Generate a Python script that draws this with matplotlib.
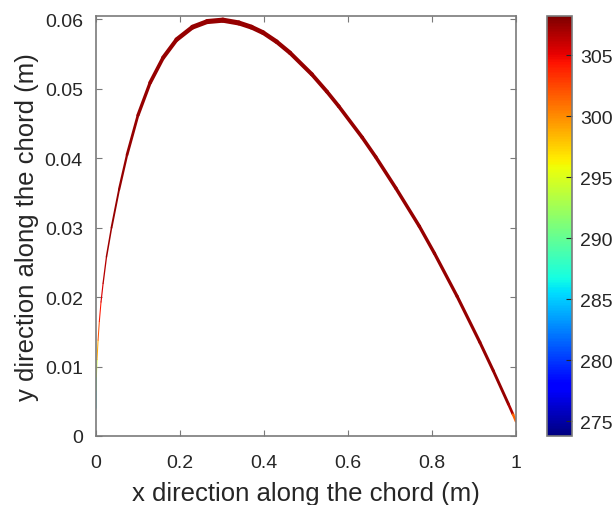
import numpy as np
import matplotlib
matplotlib.use('Agg')
import matplotlib.pyplot as plt
from matplotlib.collections import LineCollection

plt.rcParams['font.family'] = ['Liberation Sans', 'DejaVu Sans']

# surface points along the chord (m) and temperature (K)
x = [0.0, 0.0003, 0.001, 0.0025, 0.005, 0.008, 0.012, 0.017, 0.025, 0.037,
     0.055, 0.074, 0.10, 0.129, 0.16, 0.192, 0.23, 0.265, 0.302, 0.34,
     0.37, 0.398, 0.43, 0.462, 0.514, 0.55, 0.578, 0.634, 0.666, 0.714,
     0.77, 0.806, 0.86, 0.914, 0.946, 0.982, 0.993, 1.0]
y = [0.004, 0.0065, 0.0085, 0.011, 0.0138, 0.0165, 0.0193, 0.022, 0.0258, 0.030,
     0.0355, 0.0405, 0.0462, 0.0509, 0.0545, 0.0571, 0.0589, 0.0597, 0.0599, 0.0595,
     0.0589, 0.0581, 0.0568, 0.0552, 0.0521, 0.0496, 0.0475, 0.0430, 0.0402, 0.0357,
     0.0302, 0.0263, 0.0201, 0.0135, 0.0094, 0.0046, 0.0031, 0.0021]
T = [284, 288, 292, 297, 301, 303.5, 305, 306, 307, 307.5,
     307.5, 307.5, 307.5, 307.5, 307.5, 307.5, 307.5, 307.5, 307.5, 307.5,
     307.5, 307.5, 307.5, 307.5, 307.5, 307.5, 307.5, 307.5, 307.5, 307.5,
     307.5, 307.5, 307.5, 307.5, 307.5, 307.5, 306, 297]
T_min, T_max = 273.8, 308.2
cbar_ticks = [275, 280, 285, 290, 295, 300, 305]

# drawn band width (pixels) at each point
lw_px = [1.0, 1.0, 1.0, 1.0, 1.0, 1.0, 1.1, 1.2, 1.4, 1.7,
         2.1, 2.5, 3.0, 3.5, 3.9, 4.3, 4.7, 5.0, 5.2, 5.0,
         4.8, 4.6, 4.4, 4.2, 4.0, 3.8, 3.7, 3.6, 3.6, 3.5,
         3.4, 3.3, 3.2, 3.1, 3.0, 2.8, 2.6, 2.4]

txt = '#262626'
edge = '#7a7a7a'

fig = plt.figure(figsize=(6.16, 5.06), dpi=100)
ax = fig.add_axes([0.1558, 0.1364, 0.6818, 0.83])
cax = fig.add_axes([0.888, 0.1364, 0.0406, 0.83])

pts = np.column_stack([x, y])
segs = np.stack([pts[:-1], pts[1:]], axis=1)
Tseg = 0.5 * (np.array(T[:-1]) + np.array(T[1:]))
wseg = 0.5 * (np.array(lw_px[:-1]) + np.array(lw_px[1:])) * 0.72
norm = plt.Normalize(T_min, T_max)
lc = LineCollection(segs, cmap='jet', norm=norm, linewidths=wseg,
                    capstyle='round', joinstyle='round')
lc.set_array(Tseg)
ax.add_collection(lc)

ax.set_xlim(0, 1)
ax.set_ylim(0, 0.0605)
ax.set_xticks([0, 0.2, 0.4, 0.6, 0.8, 1])
ax.set_xticklabels(['0', '0.2', '0.4', '0.6', '0.8', '1'])
ax.set_yticks([0, 0.01, 0.02, 0.03, 0.04, 0.05, 0.06])
ax.set_yticklabels(['0', '0.01', '0.02', '0.03', '0.04', '0.05', '0.06'])
ax.tick_params(direction='in', length=4, width=0.8, color=edge, labelcolor=txt,
               labelsize=14, top=True, right=True)
ax.tick_params(axis='x', pad=13)
ax.tick_params(axis='y', pad=9.5)
for s in ax.spines.values():
    s.set_color(edge)
    s.set_linewidth(1.2)
ax.set_xlabel('x direction along the chord (m)', fontsize=18.5, color=txt, labelpad=7)
ax.set_ylabel('y direction along the chord (m)', fontsize=18.5, color=txt, labelpad=4)

cb = fig.colorbar(lc, cax=cax)
cb.set_ticks(cbar_ticks)
cb.ax.tick_params(direction='in', length=4, width=0.8, color=txt, labelcolor=txt,
                  labelsize=14, pad=6)
cb.outline.set_edgecolor(edge)
cb.outline.set_linewidth(1.2)

fig.savefig('out.png', dpi=100)
